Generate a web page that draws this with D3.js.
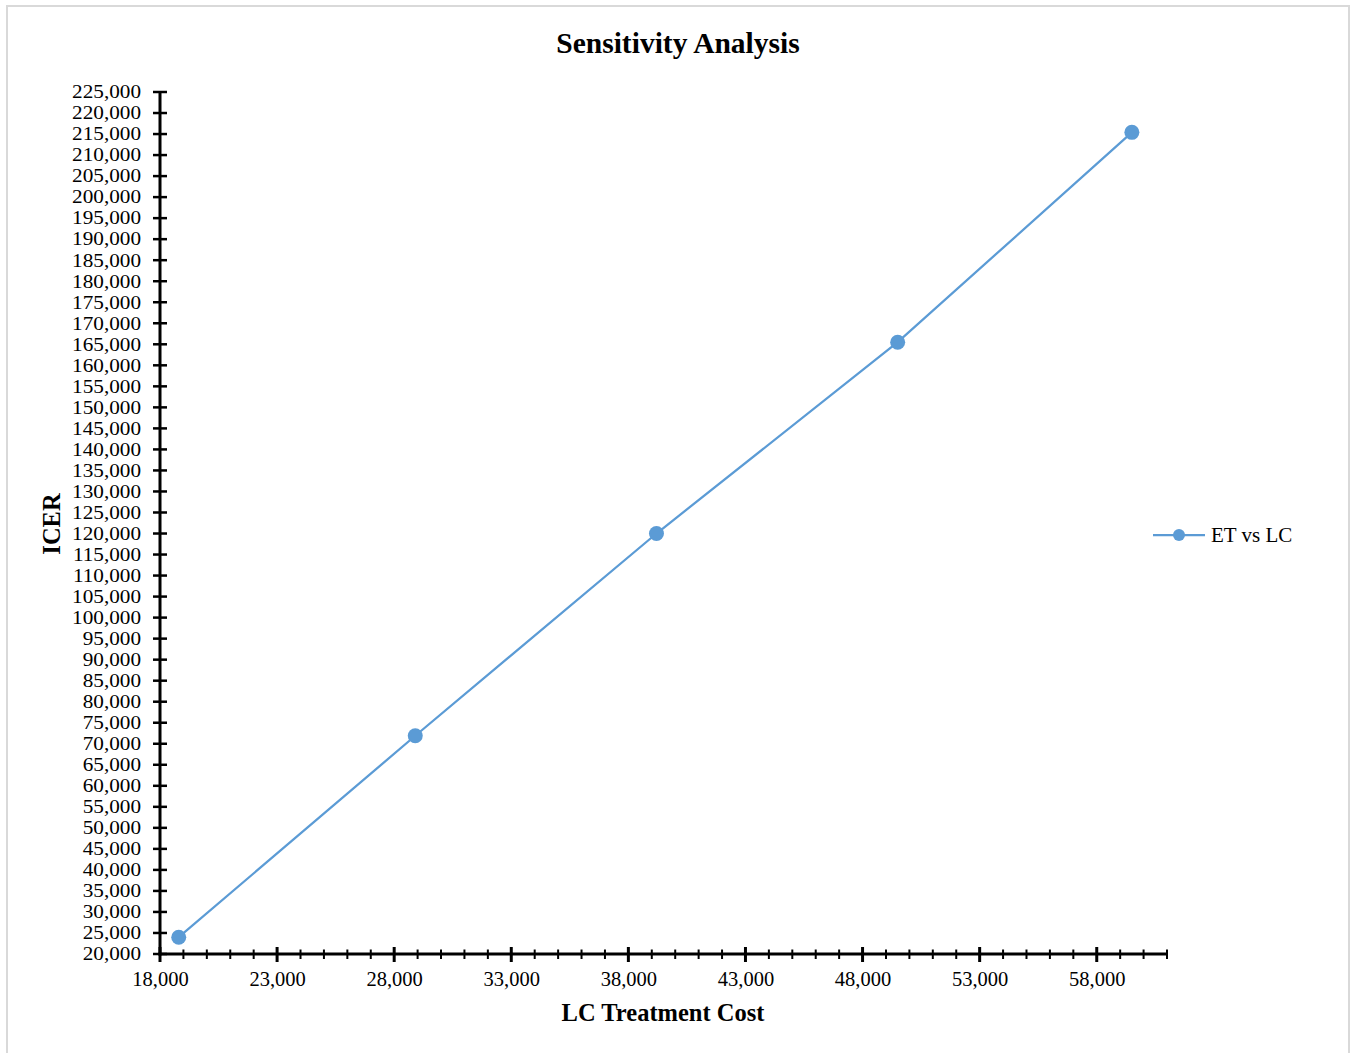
<!DOCTYPE html>
<html>
<head>
<meta charset="utf-8">
<script src="https://cdn.jsdelivr.net/npm/d3@7"></script>
<style>
  html, body { margin: 0; padding: 0; background: #fff; }
  svg { display: block; }
  text { font-family: "Liberation Serif", "Times New Roman", serif; fill: #000; }
</style>
</head>
<body>
<svg id="chart" width="1354" height="1053"></svg>
<script>
// ---- data ----
const seriesName = "ET vs LC";
const lcCost = [18800, 28900, 39200, 49500, 59500];
const icer = [24000, 71900, 120000, 165500, 215400];
const xMajorTicks = [18000, 23000, 28000, 33000, 38000, 43000, 48000, 53000, 58000];
const xMinorTicks = d3.range(18000, 61001, 1000);
const yTicks = d3.range(20000, 225001, 5000);
const chartTitle = "Sensitivity Analysis";
const xTitle = "LC Treatment Cost";
const yTitle = "ICER";

const svg = d3.select("#chart");
const color = "#5b9bd5";
const fmt = d3.format(",");

// outer border
svg.append("rect").attr("x", 7).attr("y", 6).attr("width", 1342).attr("height", 1070)
  .attr("fill", "none").attr("stroke", "#d9d9d9").attr("stroke-width", 2);

const x = d3.scaleLinear().domain([18000, 61000]).range([160, 1167]);
const y = d3.scaleLinear().domain([20000, 225000]).range([954, 92]);

// title
svg.append("text").attr("x", 678).attr("y", 53).attr("text-anchor", "middle")
  .attr("font-size", 29.5).attr("font-weight", "bold").text(chartTitle);

// y axis (labels slightly widened so they keep the reference width without overlapping vertically)
const yPad = 19, ySx = 1.165;
const yAxis = d3.axisLeft(y).tickValues(yTicks).tickFormat(fmt).tickSize(0).tickPadding(yPad);
const gy = svg.append("g").attr("transform", `translate(${x.range()[0]},0)`).call(yAxis);
gy.select(".domain").remove();
gy.selectAll("text").attr("font-size", 18.2).attr("font-family", "Liberation Serif").attr("fill", "#000")
  .attr("x", -yPad / ySx).attr("transform", `scale(${ySx},1)`);
svg.append("g").selectAll("line").data(yTicks).join("line")
  .attr("x1", 153).attr("x2", 167).attr("y1", d => y(d)).attr("y2", d => y(d))
  .attr("stroke", "#000").attr("stroke-width", 2.5);
svg.append("line").attr("x1", x.range()[0]).attr("x2", x.range()[0])
  .attr("y1", y.range()[1] - 1).attr("y2", y.range()[0] + 1.5)
  .attr("stroke", "#000").attr("stroke-width", 3);

// x axis
const xAxis = d3.axisBottom(x).tickValues(xMajorTicks).tickFormat(fmt).tickSize(0).tickPadding(17);
const gx = svg.append("g").attr("transform", `translate(0,${y.range()[0]})`).call(xAxis);
gx.select(".domain").remove();
gx.selectAll("text").attr("font-size", 20.5).attr("font-family", "Liberation Serif").attr("fill", "#000");
svg.append("g").selectAll("line").data(xMinorTicks).join("line")
  .attr("x1", d => x(d)).attr("x2", d => x(d))
  .attr("y1", d => xMajorTicks.includes(d) ? 947 : 949.5)
  .attr("y2", d => xMajorTicks.includes(d) ? 962 : 959)
  .attr("stroke", "#000").attr("stroke-width", d => xMajorTicks.includes(d) ? 3 : 2);
svg.append("line").attr("x1", x.range()[0] - 1.5).attr("x2", x.range()[1] + 1)
  .attr("y1", y.range()[0]).attr("y2", y.range()[0])
  .attr("stroke", "#000").attr("stroke-width", 3);

// axis titles
svg.append("text").attr("x", 663).attr("y", 1021).attr("text-anchor", "middle")
  .attr("font-size", 24.5).attr("font-weight", "bold").text(xTitle);
svg.append("text").attr("transform", "translate(60,524) rotate(-90)").attr("text-anchor", "middle")
  .attr("font-size", 24.5).attr("font-weight", "bold").text(yTitle);

// series
const pts = lcCost.map((v, i) => [v, icer[i]]);
svg.append("path").datum(pts)
  .attr("d", d3.line().x(d => x(d[0])).y(d => y(d[1])))
  .attr("fill", "none").attr("stroke", color).attr("stroke-width", 2.25);
svg.append("g").selectAll("circle").data(pts).join("circle")
  .attr("cx", d => x(d[0])).attr("cy", d => y(d[1])).attr("r", 7.5).attr("fill", color);

// legend
const lg = svg.append("g").attr("transform", "translate(1153,535)");
lg.append("line").attr("x1", 0).attr("x2", 52).attr("y1", 0).attr("y2", 0)
  .attr("stroke", color).attr("stroke-width", 2.25);
lg.append("circle").attr("cx", 26).attr("cy", 0).attr("r", 6).attr("fill", color);
lg.append("text").attr("x", 58).attr("y", 7).attr("font-size", 21).text(seriesName);
</script>
</body>
</html>
